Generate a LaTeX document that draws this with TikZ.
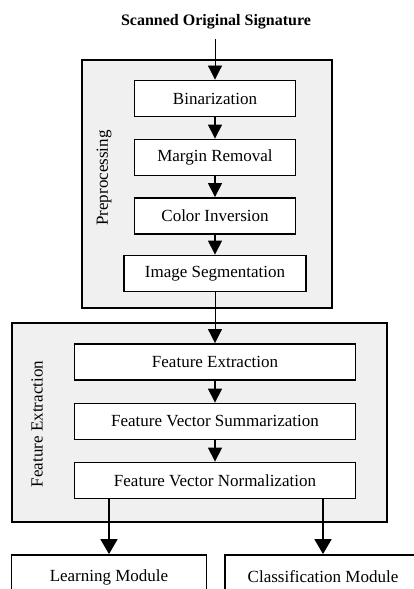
\documentclass[tikz,border=0pt]{standalone}
\usepackage{fontspec}
\setmainfont{Liberation Serif}
\usetikzlibrary{arrows.meta}
\begin{document}
\begin{tikzpicture}[x=1pt,y=1pt,
  stage/.style={draw,line width=1.8pt,fill=white,minimum height=36pt,inner sep=0pt,
    font=\fontsize{17}{20}\selectfont},
  group/.style={draw,line width=1.6pt,fill=black!6},
  flow/.style={-{Triangle[width=14pt,length=14pt]},line width=1.2pt},
  split/.style={-{Triangle[width=17pt,length=15pt]},line width=1.8pt},
  side/.style={rotate=90,font=\fontsize{17}{20}\selectfont}]
  \useasboundingbox (0,0) rectangle (414,589);
  \clip (0,0) rectangle (414,589);
  % shaded frames of the two stages
  \draw[group] (82,529) rectangle (332,281);
  \draw[group] (12,266) rectangle (387,67);
  \node[side] (prelabel) at (104,411) {Preprocessing};
  \node[side] (featlabel) at (37,165) {Feature Extraction};
  % input
  \node[font=\bfseries\fontsize{16}{19}\selectfont] (scan) at (216,567) {Scanned Original Signature};
  % preprocessing chain
  \node[stage,minimum width=161pt] (bin) at (215,490.5) {Binarization};
  \node[stage,minimum width=161pt] (margin) at (215,431.5) {Margin Removal};
  \node[stage,minimum width=161pt] (color) at (215,373) {Color Inversion};
  \node[stage,minimum width=182pt] (seg) at (215,315.5) {Image Segmentation};
  % feature chain
  \node[stage,minimum width=281pt] (fext) at (215,227) {Feature Extraction};
  \node[stage,minimum width=281pt] (fsum) at (215,167.5) {Feature Vector Summarization};
  \node[stage,minimum width=281pt] (fnorm) at (215,108.5) {Feature Vector Normalization};
  % the two modules, cut off at the lower edge
  \node[stage,minimum width=195pt,minimum height=44pt] (learn) at (109,12) {Learning Module};
  \node[stage,minimum width=196pt,minimum height=44pt] (classify) at (323,12) {Classification Module};
  % arrows
  \draw[flow,line width=0.8pt] ([yshift=-6pt]scan.south -| bin.north) -- (bin.north);
  \draw[flow] (bin) -- (margin);
  \draw[flow] (margin) -- (color);
  \draw[flow] (color) -- (seg);
  \draw[flow,line width=0.8pt] (seg) -- (fext);
  \draw[flow] (fext) -- (fsum);
  \draw[flow] (fsum) -- (fnorm);
  \draw[split] (fnorm.south -| learn.north) -- (learn.north);
  \draw[split] (fnorm.south -| classify.north) -- (classify.north);
\end{tikzpicture}
\end{document}
